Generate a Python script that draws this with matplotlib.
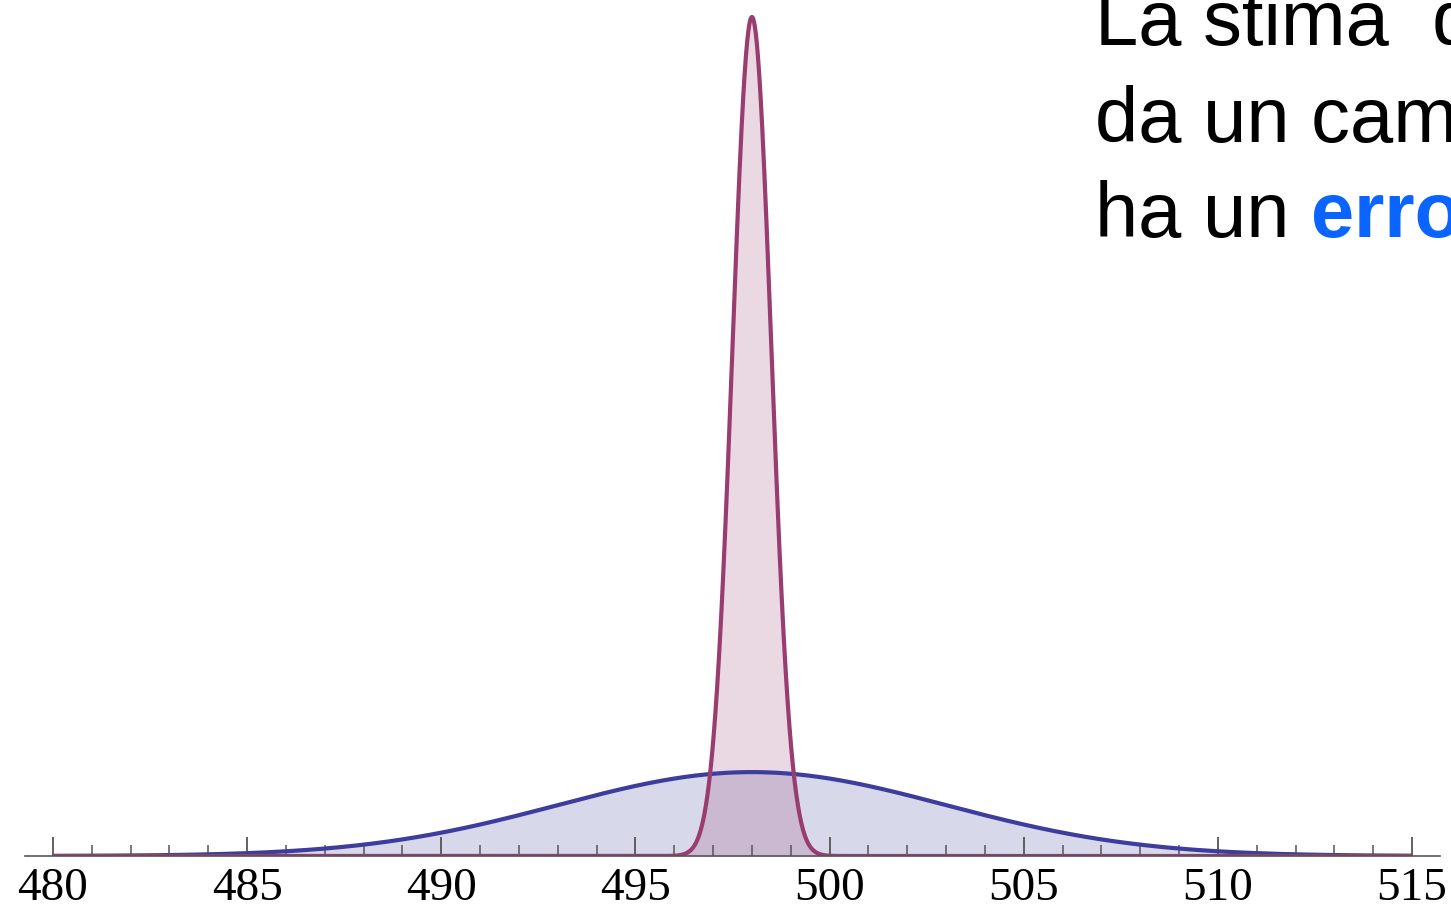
import numpy as np
import matplotlib
matplotlib.use("Agg")
import matplotlib.pyplot as plt
from matplotlib.ticker import MultipleLocator

# two normal curves with the same mean, different spread
mean = 498.0
sigmas = [5.0, 0.5]
line_colors = ["#3d3d9e", "#993d70"]
x_range = (480, 515)
tick_labels = [480, 485, 490, 495, 500, 505, 510, 515]

text_lines = ["La stima  della media", "da un campione grande", "ha un "]
highlight = "errore piccolo"


def normal_pdf(x, mu, s):
    return np.exp(-(x - mu) ** 2 / (2 * s ** 2)) / (s * np.sqrt(2 * np.pi))


W, H = 1451, 911
fig = plt.figure(figsize=(W / 100, H / 100), dpi=100)
ax = fig.add_axes([25 / W, 55 / H, 1415 / W, 856 / H])

x = np.linspace(x_range[0], x_range[1], 4000)
for s, c in zip(sigmas, line_colors):
    y = normal_pdf(x, mean, s)
    ax.fill_between(x, 0, y, color=c, alpha=0.2, linewidth=0)
    ax.plot(x, y, color=c, linewidth=3.0, solid_capstyle="butt")

peak = normal_pdf(mean, mean, min(sigmas))
ax.set_ylim(0, peak * 856 / 839)
ax.set_xlim(479.28, 515.72)

for side in ["top", "right", "left"]:
    ax.spines[side].set_visible(False)
ax.spines["bottom"].set_color("#555555")
ax.spines["bottom"].set_linewidth(1.2)
ax.set_yticks([])
ax.set_xticks(tick_labels)
ax.set_xticklabels([str(t) for t in tick_labels],
                   fontfamily="Liberation Serif", fontsize=34)
ax.xaxis.set_minor_locator(MultipleLocator(1))
ax.tick_params(axis="x", which="major", direction="in", length=14,
               width=1.3, color="#555555", pad=8)
ax.tick_params(axis="x", which="minor", direction="in", length=8,
               width=1.1, color="#555555")

# text block at top right, cut off by the figure edge
fs = 56
baselines = [45, 142, 237]
for txt, b in zip(text_lines, baselines):
    t = fig.text(1095 / W, 1 - b / H, txt, fontfamily="Liberation Sans",
                 fontsize=fs, va="baseline", ha="left", color="black")
fig.canvas.draw()
ext = t.get_window_extent()
fig.text(ext.x1 / W, 1 - baselines[2] / H, highlight,
         fontfamily="Liberation Sans", fontweight="bold", fontsize=fs,
         va="baseline", ha="left", color="#0a64ff")

fig.savefig("out.png", dpi=100)
